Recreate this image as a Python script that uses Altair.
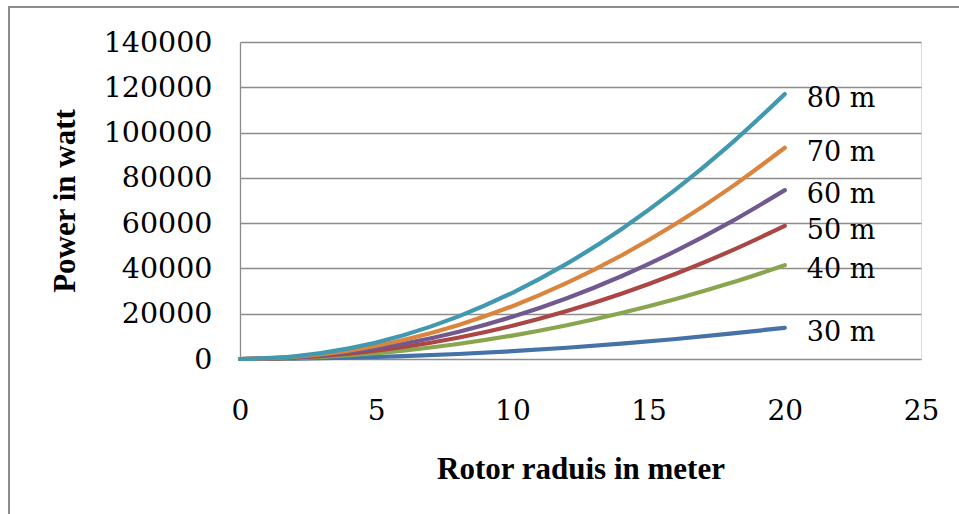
import altair as alt
import pandas as pd

radius = [0, 2, 4, 6, 8, 10, 12, 14, 16, 18, 20]
p30 = [0, 140, 550, 1240, 2210, 3450, 4970, 6760, 8830, 11180, 13800]
p40 = [0, 410, 1660, 3730, 6620, 10350, 14900, 20290, 26500, 33530, 41400]
p50 = [0, 590, 2350, 5290, 9410, 14700, 21170, 28810, 37630, 47630, 58800]
p60 = [0, 750, 2980, 6710, 11940, 18650, 26860, 36550, 47740, 60430, 74600]
p70 = [0, 930, 3730, 8400, 14930, 23330, 33590, 45720, 59710, 75570, 93300]
p80 = [0, 1170, 4680, 10530, 18720, 29250, 42120, 57330, 74880, 94770, 117000]

series_names = ["30 m", "40 m", "50 m", "60 m", "70 m", "80 m"]
series_vals = [p30, p40, p50, p60, p70, p80]
colors = ["#4572A7", "#89A54E", "#AA4643", "#71588F", "#DB843D", "#4198AF"]

rows = []
for name, vals in zip(series_names, series_vals):
    for r, v in zip(radius, vals):
        rows.append({"r": r, "p": v, "s": name})
df = pd.DataFrame(rows)
last = df[df["r"] == radius[-1]]

W, H = 681, 317
FONT = "DejaVu Serif"

x = alt.X("r:Q", scale=alt.Scale(domain=[0, 25], nice=False),
          axis=alt.Axis(values=[0, 5, 10, 15, 20, 25], title="Rotor raduis in meter",
                        grid=False, domain=False, ticks=False, labelFlush=False, format="d",
                        labelFont=FONT, labelFontSize=28, labelColor="black",
                        labelBaseline="middle", labelPadding=52,
                        titleFont="Liberation Serif", titleFontSize=31, titleFontWeight="bold",
                        titleColor="black", titleX=W / 2, titleY=110, titleBaseline="middle",
                        titleAlign="center"))
y = alt.Y("p:Q", scale=alt.Scale(domain=[0, 140000], nice=False),
          axis=alt.Axis(values=[0, 20000, 40000, 60000, 80000, 100000, 120000, 140000],
                        format="d", labelFlush=False,
                        title="Power in watt", grid=True, gridColor="#8c8c8c", gridWidth=1.3,
                        domain=True, domainColor="#8c8c8c", domainWidth=1.3, ticks=False,
                        labelFont=FONT, labelFontSize=28.5, labelColor="black", labelPadding=28,
                        titleFont="Liberation Serif", titleFontSize=31, titleFontWeight="bold",
                        titleColor="black", titleX=-175, titleY=H / 2, titleAngle=-90,
                        titleBaseline="middle", titleAlign="center"))
color = alt.Color("s:N", scale=alt.Scale(domain=series_names, range=colors), legend=None)

lines = alt.Chart(df).mark_line(strokeWidth=4.2, interpolate="monotone", strokeCap="round").encode(
    x=x, y=y, color=color, order="r:Q")

labels = alt.Chart(last).mark_text(align="left", baseline="middle", dx=22, dy=5,
                                   font=FONT, fontSize=27, color="black").encode(
    x="r:Q", y="p:Q", text="s:N")

border = alt.Chart(pd.DataFrame({"a": [0]})).mark_rect(
    fill=None, stroke="#8c8c8c", strokeWidth=2, clip=False).encode(
    x=alt.value(-231), x2=alt.value(760), y=alt.value(-35), y2=alt.value(520))

chart = alt.layer(border, lines, labels).properties(
    width=W, height=H,
    autosize=alt.AutoSizeParams(type="none"),
    padding={"left": 240, "top": 42, "right": 38, "bottom": 155},
).configure_view(stroke=None).configure(background="white")

chart.save("out.html", embed_options={"renderer": "svg", "actions": False})
